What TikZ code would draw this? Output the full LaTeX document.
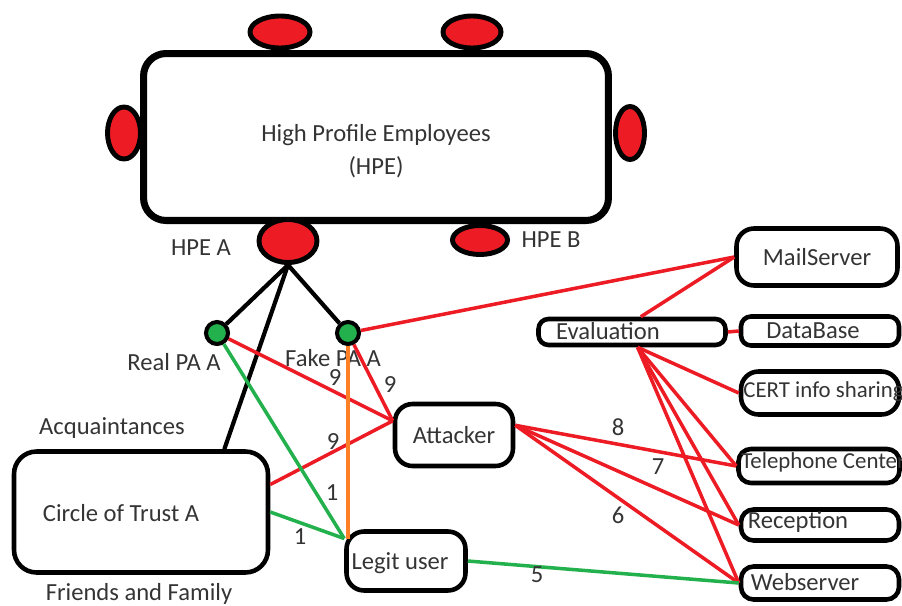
\documentclass[tikz,border=0pt]{standalone}
\usepackage{fontspec}
\setmainfont{Carlito}
\usepackage{tikz}
\usetikzlibrary{shapes.geometric, calc}
\definecolor{seatred}{RGB}{237,28,36}
\definecolor{pagreen}{RGB}{34,177,76}
\definecolor{linered}{RGB}{237,28,36}
\definecolor{linegreen}{RGB}{34,177,76}
\definecolor{lineorange}{RGB}{255,127,39}
\definecolor{txtgray}{RGB}{52,52,52}

\begin{document}
\begin{tikzpicture}[
  x=0.02cm, y=-0.02cm,
  every node/.style={font=\fontsize{14}{19}\selectfont, text=txtgray},
  seat/.style={ellipse, draw=black, fill=seatred, line width=2.8pt, inner sep=0pt},
  pabullet/.style={circle, draw=black, fill=pagreen, line width=2.3pt, minimum size=0.44cm, inner sep=0pt},
  cbox/.style={rectangle, draw=black, line width=2.6pt, rounded corners=0.35cm},
  lbl/.style={inner sep=0pt},
  redline/.style={draw=linered, line width=2pt},
  greenline/.style={draw=linegreen, line width=2pt},
  blackline/.style={draw=black, line width=2.4pt}
]
  \useasboundingbox (0,0) rectangle (902,605);

  % table of high profile employees
  \node[cbox, line width=4pt, rounded corners=0.45cm, minimum width=9.3cm, minimum height=3.34cm] (hpe) at (376,137) {};
  \node[lbl, align=center] (hpetxt) at (376,151) {High Profile Employees\\(HPE)};
  \node[seat, minimum width=1.2cm,  minimum height=0.64cm] (seatT1) at (280,32)  {};
  \node[seat, minimum width=1.16cm, minimum height=0.64cm] (seatT2) at (472,32)  {};
  \node[seat, minimum width=0.66cm, minimum height=1.04cm] (seatL)  at (124,133) {};
  \node[seat, minimum width=0.58cm, minimum height=1.06cm] (seatR)  at (630,133) {};
  \node[seat, minimum width=1.16cm, minimum height=0.86cm] (seatA)  at (288,241) {};
  \node[seat, minimum width=1.1cm,  minimum height=0.58cm] (seatB)  at (480,240) {};
  \node[lbl] (hpea) at (201,248) {HPE A};
  \node[lbl] (hpeb) at (551,240) {HPE B};

  % personal assistants
  \node[pabullet] (realpa) at (217,333) {};
  \node[pabullet] (fakepa) at (348,333) {};
  \node[lbl] (reallbl) at (174,362) {Real PA A};
  \node[lbl] (fakelbl) at (333,358) {Fake PA A};

  % circle of trust
  \node[cbox, rounded corners=0.45cm, minimum width=5.08cm, minimum height=2.42cm] (cot) at (141,512) {};
  \node[lbl] (cottxt)  at (121,513) {Circle of Trust A};
  \node[lbl] (acq)     at (112,428) {Acquaintances};
  \node[lbl] (friends) at (139,594) {Friends and Family};

  % attacker and legit user
  \node[cbox, minimum width=2.36cm, minimum height=1.24cm] (attacker) at (454,435) {Attacker};
  \node[cbox, minimum width=2.38cm, minimum height=1.18cm] (legit)    at (406,561) {};
  \node[lbl] (legittxt) at (400,563) {Legit user};

  % evaluation and targets
  \node[cbox, rounded corners=0.2cm, minimum width=3.74cm, minimum height=0.52cm] (eval) at (632,332) {};
  \node[lbl] (evaltxt) at (608,331) {Evaluation};
  \node[cbox, minimum width=3.22cm, minimum height=1.14cm] (mail) at (817,257) {MailServer};
  \node[cbox, rounded corners=0.2cm, minimum width=3.16cm, minimum height=0.58cm] (db) at (820,331) {};
  \node[lbl] (dbtxt) at (813,331) {DataBase};
  \node[cbox, minimum width=3.16cm, minimum height=0.86cm] (cert)  at (820,393) {};
  \node[lbl, anchor=west, font=\fontsize{13}{15}\selectfont] (certtxt) at (743,392) {CERT info sharing};
  \node[cbox, rounded corners=0.25cm, minimum width=3.22cm, minimum height=0.68cm] (tel) at (819,466) {};
  \node[lbl, anchor=west, font=\fontsize{13}{15}\selectfont] (teltxt) at (741,462) {Telephone Center};
  \node[cbox, rounded corners=0.25cm, minimum width=3.16cm, minimum height=0.62cm] (recep) at (820,525) {};
  \node[lbl] (receptxt) at (798,522) {Reception};
  \node[cbox, rounded corners=0.25cm, minimum width=3.16cm, minimum height=0.66cm] (web) at (820,583) {};
  \node[lbl] (webtxt) at (805,582) {Webserver};

  % HPE A and its links
  \foreach \t in {realpa, fakepa, cot.37}{
    \draw[blackline] (seatA.south) -- (\t);
  }

  % attack paths
  \foreach \s in {realpa, fakepa, cot.12}{
    \draw[redline] (\s) -- (attacker.167);
  }
  \draw[redline] (fakepa) -- (mail.west);
  \draw[redline] (eval.60) -- (mail.west);
  \draw[redline] (eval.east) -- (db.west);
  \foreach \t in {cert, tel, recep, web}{
    \draw[redline] (eval.-70) -- (\t.west);
  }
  \foreach \t in {tel, recep, web}{
    \draw[redline] (attacker.9) -- (\t.west);
  }

  % legit paths
  \draw[greenline] (realpa) -- (legit.160);
  \draw[greenline] (cot.east) -- (legit.160);
  \draw[greenline] (legit.east) -- (web.west);
  \draw[draw=lineorange, line width=2.4pt] (fakepa.south) -- (fakepa.south |- legit.160);

  % weights
  \node[lbl] (w9a) at (335,378) {9};
  \node[lbl] (w9b) at (390,385) {9};
  \node[lbl] (w9c) at (333,442) {9};
  \node[lbl] (w1a) at (332,493) {1};
  \node[lbl] (w1b) at (300,537) {1};
  \node[lbl] (w5)  at (537,575) {5};
  \node[lbl] (w8)  at (618,427) {8};
  \node[lbl] (w7)  at (658,467) {7};
  \node[lbl] (w6)  at (618,515) {6};
\end{tikzpicture}
\end{document}
